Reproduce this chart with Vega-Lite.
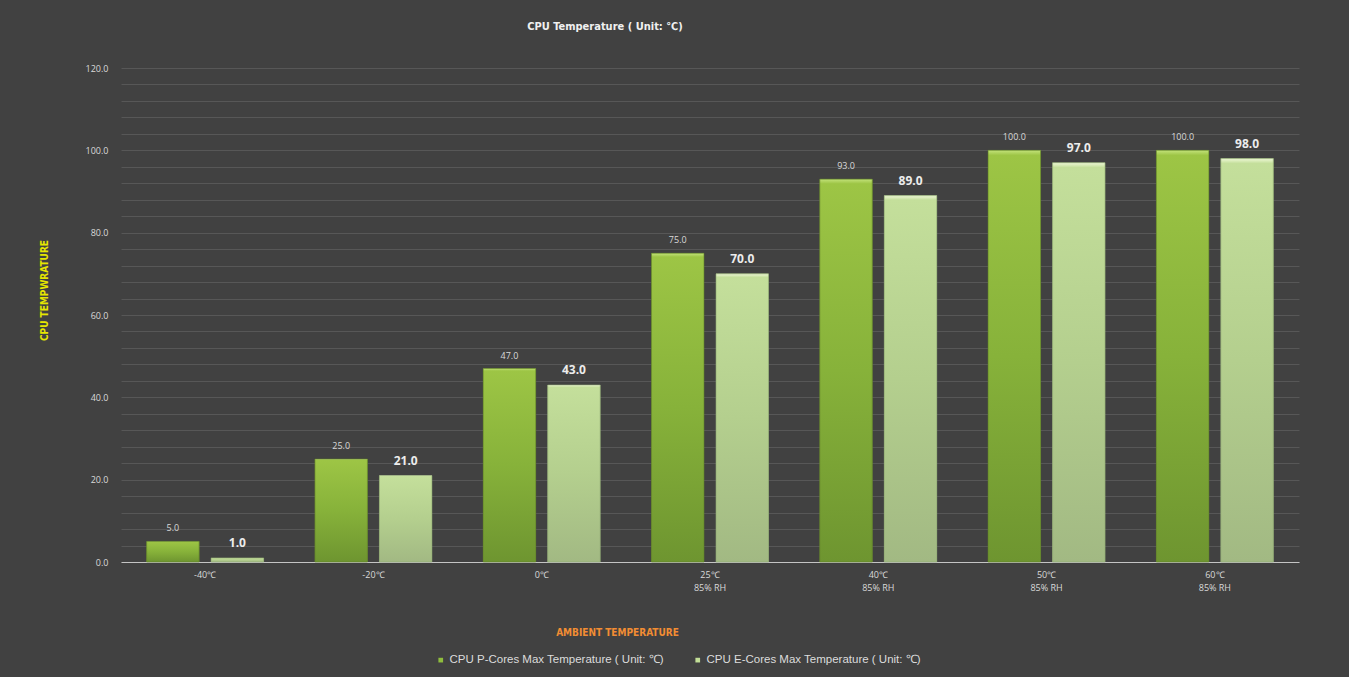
{
  "$schema": "https://vega.github.io/schema/vega-lite/v6.json",
  "autosize": {"type": "none"},
  "width": 1178,
  "height": 494,
  "padding": {"left": 121, "top": 68, "right": 50, "bottom": 115},
  "background": "#414141",
  "title": {
    "text": "CPU Temperature ( Unit: ℃)",
    "anchor": "middle",
    "dx": -105,
    "offset": 32,
    "font": "Liberation Sans Narrow, DejaVu Sans Condensed, sans-serif",
    "fontSize": 11,
    "fontWeight": "bold",
    "color": "#f0f0f0"
  },
  "data": {
    "values": [
      {"ambient": "-40℃", "series": "CPU P-Cores Max Temperature ( Unit: ℃)", "temp": 5},
      {"ambient": "-40℃", "series": "CPU E-Cores Max Temperature ( Unit: ℃)", "temp": 1},
      {"ambient": "-20℃", "series": "CPU P-Cores Max Temperature ( Unit: ℃)", "temp": 25},
      {"ambient": "-20℃", "series": "CPU E-Cores Max Temperature ( Unit: ℃)", "temp": 21},
      {"ambient": "0℃", "series": "CPU P-Cores Max Temperature ( Unit: ℃)", "temp": 47},
      {"ambient": "0℃", "series": "CPU E-Cores Max Temperature ( Unit: ℃)", "temp": 43},
      {"ambient": "25℃\n85% RH", "series": "CPU P-Cores Max Temperature ( Unit: ℃)", "temp": 75},
      {"ambient": "25℃\n85% RH", "series": "CPU E-Cores Max Temperature ( Unit: ℃)", "temp": 70},
      {"ambient": "40℃\n85% RH", "series": "CPU P-Cores Max Temperature ( Unit: ℃)", "temp": 93},
      {"ambient": "40℃\n85% RH", "series": "CPU E-Cores Max Temperature ( Unit: ℃)", "temp": 89},
      {"ambient": "50℃\n85% RH", "series": "CPU P-Cores Max Temperature ( Unit: ℃)", "temp": 100},
      {"ambient": "50℃\n85% RH", "series": "CPU E-Cores Max Temperature ( Unit: ℃)", "temp": 97},
      {"ambient": "60℃\n85% RH", "series": "CPU P-Cores Max Temperature ( Unit: ℃)", "temp": 100},
      {"ambient": "60℃\n85% RH", "series": "CPU E-Cores Max Temperature ( Unit: ℃)", "temp": 98}
    ]
  },
  "encoding": {
    "x": {
      "field": "ambient",
      "type": "nominal",
      "sort": null,
      "scale": {"paddingInner": 0.305, "paddingOuter": 0.1525},
      "axis": {
        "title": "AMBIENT TEMPERATURE",
        "labelAngle": 0,
        "labelExpr": "split(datum.label, '\\n')",
        "labelLineHeight": 13,
        "labelPadding": 8,
        "labelFont": "Open Sans, sans-serif",
        "labelFontSize": 9,
        "labelColor": "#d9d9d9",
        "ticks": false,
        "domainColor": "#c4c4c4",
        "domainWidth": 1,
        "titleX": 496,
        "titleY": 70,
        "titleBaseline": "middle",
        "titleFont": "Liberation Sans Narrow, DejaVu Sans Condensed, sans-serif",
        "titleFontSize": 10,
        "titleFontWeight": "bold",
        "titleColor": "#f28d33"
      }
    },
    "xOffset": {
      "field": "series",
      "type": "nominal",
      "sort": null,
      "scale": {
        "domain": ["CPU P-Cores Max Temperature ( Unit: ℃)", "CPU E-Cores Max Temperature ( Unit: ℃)"],
        "paddingInner": 0.186,
        "paddingOuter": 0
      }
    },
    "y": {
      "field": "temp",
      "type": "quantitative",
      "scale": {"domain": [0, 120], "nice": false},
      "axis": {
        "title": "CPU TEMPWRATURE",
        "values": [0, 4, 8, 12, 16, 20, 24, 28, 32, 36, 40, 44, 48, 52, 56, 60, 64, 68, 72, 76, 80, 84, 88, 92, 96, 100, 104, 108, 112, 116, 120],
        "labelExpr": "datum.value % 20 === 0 ? format(datum.value, '.1f') : ''",
        "labelPadding": 13,
        "labelFont": "Open Sans, sans-serif",
        "labelFontSize": 9,
        "labelColor": "#d9d9d9",
        "ticks": false,
        "domain": false,
        "grid": true,
        "gridColor": "#575757",
        "gridWidth": 1,
        "titleX": -77,
        "titleY": 222,
        "titleBaseline": "middle",
        "titleFont": "Liberation Sans Narrow, DejaVu Sans Condensed, sans-serif",
        "titleFontSize": 10,
        "titleFontWeight": "bold",
        "titleColor": "#e6e600"
      }
    }
  },
  "layer": [
    {
      "mark": {"type": "bar"},
      "encoding": {
        "color": {
          "field": "series",
          "type": "nominal",
          "sort": null,
          "scale": {
            "domain": ["CPU P-Cores Max Temperature ( Unit: ℃)", "CPU E-Cores Max Temperature ( Unit: ℃)"],
            "range": ["#8fbd3d", "#c2de97"]
          },
          "legend": {
            "title": null,
            "orient": "none",
            "direction": "horizontal",
            "legendX": 314,
            "legendY": 586,
            "symbolType": "square",
            "symbolSize": 22,
            "symbolStrokeWidth": 0,
            "columnPadding": 28,
            "labelOffset": 3,
            "labelFont": "Liberation Sans, Arial, sans-serif",
            "labelFontSize": 11.5,
            "labelColor": "#dcdcdc",
            "labelLimit": 400
          }
        }
      }
    },
    {
      "transform": [{"filter": "datum.series === 'CPU P-Cores Max Temperature ( Unit: ℃)'"}],
      "mark": {
        "type": "bar",
        "stroke": "#5f7f28",
        "strokeWidth": 0.6,
        "fill": {
          "gradient": "linear",
          "x1": 0, "y1": 0, "x2": 0, "y2": 1,
          "stops": [
            {"offset": 0, "color": "#c3e27a"},
            {"offset": 0.012, "color": "#9dc545"},
            {"offset": 0.5, "color": "#87b23a"},
            {"offset": 1, "color": "#6e9530"}
          ]
        }
      }
    },
    {
      "transform": [{"filter": "datum.series === 'CPU E-Cores Max Temperature ( Unit: ℃)'"}],
      "mark": {
        "type": "bar",
        "stroke": "#8fa872",
        "strokeWidth": 0.6,
        "fill": {
          "gradient": "linear",
          "x1": 0, "y1": 0, "x2": 0, "y2": 1,
          "stops": [
            {"offset": 0, "color": "#eef8d6"},
            {"offset": 0.012, "color": "#c4df9b"},
            {"offset": 0.5, "color": "#b4cf8e"},
            {"offset": 1, "color": "#a2b983"}
          ]
        }
      }
    },
    {
      "transform": [{"filter": "datum.series === 'CPU P-Cores Max Temperature ( Unit: ℃)'"}],
      "mark": {
        "type": "text",
        "baseline": "bottom",
        "dy": -8,
        "font": "Open Sans, sans-serif",
        "fontSize": 9,
        "color": "#d9d9d9"
      },
      "encoding": {
        "text": {"field": "temp", "type": "quantitative", "format": ".1f"}
      }
    },
    {
      "transform": [{"filter": "datum.series === 'CPU E-Cores Max Temperature ( Unit: ℃)'"}],
      "mark": {
        "type": "text",
        "baseline": "bottom",
        "dy": -8,
        "font": "Open Sans, sans-serif",
        "fontSize": 12,
        "fontWeight": "bold",
        "color": "#ececec"
      },
      "encoding": {
        "text": {"field": "temp", "type": "quantitative", "format": ".1f"}
      }
    }
  ],
  "config": {
    "view": {"stroke": null}
  }
}
